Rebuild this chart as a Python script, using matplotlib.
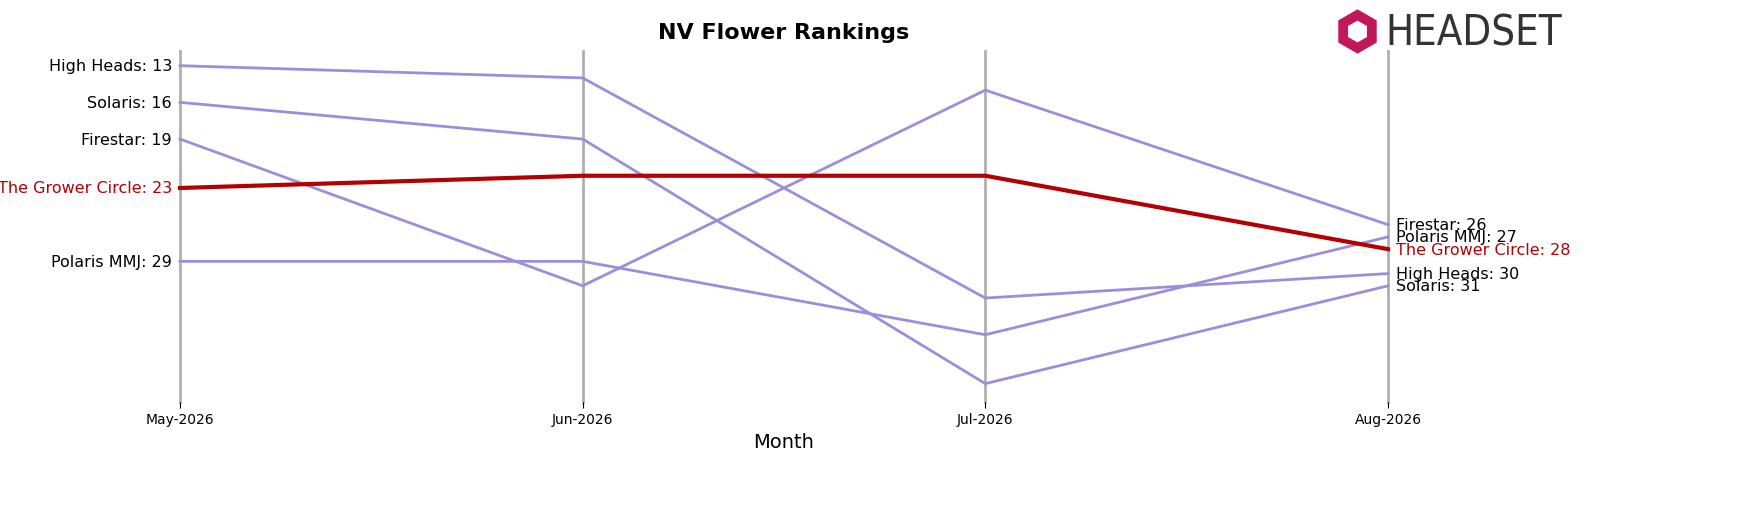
import matplotlib
matplotlib.use("Agg")
import matplotlib.pyplot as plt
from matplotlib.patches import RegularPolygon

months = ["May-2026", "Jun-2026", "Jul-2026", "Aug-2026"]
brands = ["High Heads", "Solaris", "Firestar", "The Grower Circle", "Polaris MMJ"]
high_heads = [13, 14, 32, 30]
solaris = [16, 19, 39, 31]
firestar = [19, 31, 15, 26]
grower = [23, 22, 22, 28]
polaris = [29, 29, 35, 27]
series = [high_heads, solaris, firestar, grower, polaris]
highlight = "The Grower Circle"

fig = plt.figure(figsize=(17.51, 5.06), dpi=100)
ax = fig.add_axes([180/1751, 1-403/506, (1388-180)/1751, (403-52)/506])
x = list(range(len(months)))
for xi in x:
    ax.axvline(xi, color="#b0b0b0", lw=2, zorder=0, clip_on=False)
for name, vals in zip(brands, series):
    if name == highlight:
        ax.plot(x, vals, color="#b30000", lw=3, zorder=3, clip_on=False)
    else:
        ax.plot(x, vals, color="#9b8fdb", lw=2, zorder=2, clip_on=False)
    c = "#b30000" if name == highlight else "black"
    ax.text(-0.02, vals[0], f"{name}: {vals[0]}", ha="right", va="center", fontsize=11.5, color=c)
    ax.text(3.02, vals[-1], f"{name}: {vals[-1]}", ha="left", va="center", fontsize=11.5, color=c)
ax.set_xlim(0, 3)
ax.set_ylim(40.5, 11.8)
ax.set_yticks([])
ax.set_xticks(x)
ax.set_xticklabels(months, fontsize=10)
ax.tick_params(axis="x", length=4)
for s in ax.spines.values():
    s.set_visible(False)
ax.set_xlabel("Month", fontsize=14)
fig.text(784/1751, 1-33/506, "NV Flower Rankings", ha="center", va="center", fontsize=16, fontweight="bold")

# logo
lax = fig.add_axes([1335/1751, 1-55/506, 45/1751, 45/506])
lax.set_xlim(-1, 1); lax.set_ylim(-1, 1); lax.axis("off")
lax.add_patch(RegularPolygon((0, 0), 6, radius=0.95, color="#c2185b"))
lax.add_patch(RegularPolygon((0, 0), 6, radius=0.45, color="white"))
fig.text(1385/1751, 1-34/506, "HEADSET", ha="left", va="center", fontsize=30,
         color="#333333", fontstretch="condensed", family="DejaVu Sans")
fig.savefig("out.png", dpi=100)
